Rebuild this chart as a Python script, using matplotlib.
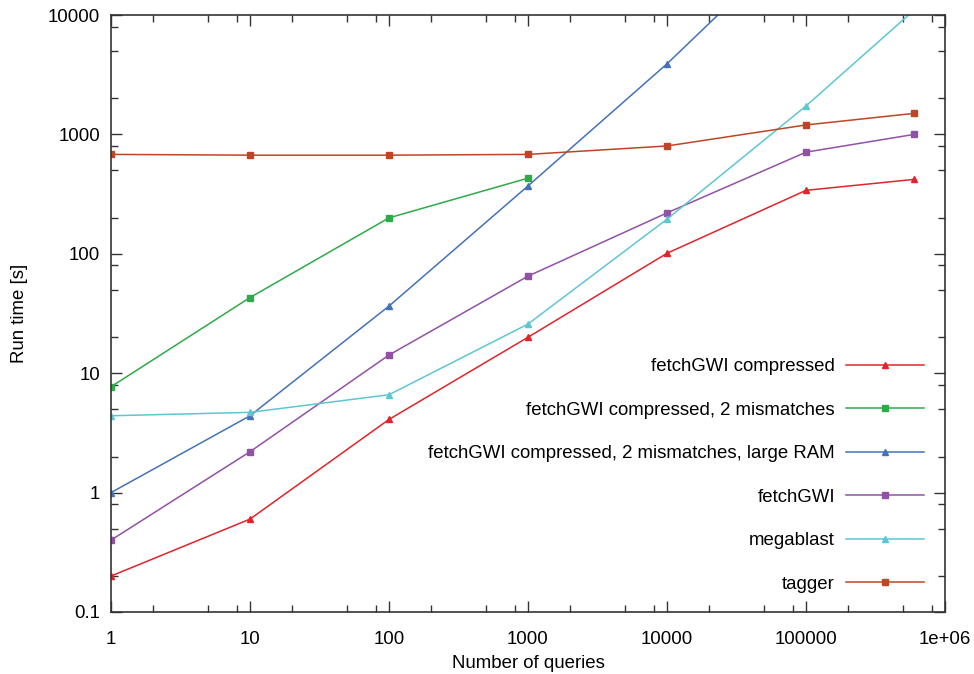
import numpy as np
import matplotlib
matplotlib.use( "Agg" )
import matplotlib.pyplot as plt
from matplotlib.ticker import LogLocator, FixedFormatter, FixedLocator, NullFormatter

# number of queries
xq = [1, 10, 100, 1000, 10000, 100000, 600000]

# run times [s]
compressed     = [0.2, 0.6, 4.1, 20.0, 101, 340, 420]
compressed_2mm = [7.7, 43, 200, 430]
compressed_ram = [1.0, 4.4, 36.5, 370, 3900, 51000]
fetchgwi       = [0.4, 2.2, 14.2, 65, 220, 710, 1000]
megablast      = [4.4, 4.7, 6.6, 25.8, 195, 1730, 11000]
tagger         = [680, 670, 670, 680, 800, 1200, 1500]

labels = [ "fetchGWI compressed",
           "fetchGWI compressed, 2 mismatches",
           "fetchGWI compressed, 2 mismatches, large RAM",
           "fetchGWI",
           "megablast",
           "tagger" ]

xticks = [1, 10, 100, 1000, 10000, 100000, 1000000]
xticklabels = ["1", "10", "100", "1000", "10000", "100000", "1e+06"]
yticks = [0.1, 1, 10, 100, 1000, 10000]
yticklabels = ["0.1", "1", "10", "100", "1000", "10000"]

plt.rcParams['font.family'] = ['Liberation Sans', 'DejaVu Sans']
plt.rcParams['font.size'] = 13.4

fig = plt.figure( figsize=(9.74, 6.74), dpi=100 )
ax = fig.add_axes( [111/974, 62/674, 834/974, 597/674] )

series = [ ( compressed,     '#e3232b', '^' ),
           ( compressed_2mm, '#2eaa4a', 's' ),
           ( compressed_ram, '#4472b8', '^' ),
           ( fetchgwi,       '#9152a6', 's' ),
           ( megablast,      '#5ec6d2', '^' ),
           ( tagger,         '#bf4526', 's' ) ]

for ( yy, col, mk ), lab in zip( series, labels ) :
    ax.plot( xq[:len( yy )], yy, '-', color=col, marker=mk, markersize=5,
             linewidth=1.1, label=lab )

ax.set_xscale( 'log' )
ax.set_yscale( 'log' )
ax.set_xlim( 1, 1e6 )
ax.set_ylim( 0.1, 1e4 )

ax.xaxis.set_major_locator( FixedLocator( xticks ) )
ax.xaxis.set_major_formatter( FixedFormatter( xticklabels ) )
ax.yaxis.set_major_locator( FixedLocator( yticks ) )
ax.yaxis.set_major_formatter( FixedFormatter( yticklabels ) )
ax.xaxis.set_minor_locator( LogLocator( base=10, subs=(2, 5, 8) ) )
ax.yaxis.set_minor_locator( LogLocator( base=10, subs=(2, 5, 8) ) )
ax.xaxis.set_minor_formatter( NullFormatter() )
ax.yaxis.set_minor_formatter( NullFormatter() )

ax.tick_params( which='both', direction='in', top=True, right=True,
                color='#333333', width=1 )
ax.tick_params( which='major', length=8 )
ax.tick_params( which='minor', length=5 )
ax.tick_params( axis='x', which='major', pad=14 )
ax.tick_params( axis='y', which='major', pad=8 )

for sp in ax.spines.values() :
    sp.set_color( '#333333' )
    sp.set_linewidth( 1.2 )

ax.set_xlabel( "Number of queries", labelpad=5 )
ax.set_ylabel( "Run time [s]", labelpad=14 )

ax.legend( loc='lower right', bbox_to_anchor=(0.984, 0.02), frameon=False,
           markerfirst=False, handlelength=4.2, handletextpad=0.6,
           labelspacing=1.42, borderaxespad=0 )

fig.savefig( "out.png", dpi=100 )
